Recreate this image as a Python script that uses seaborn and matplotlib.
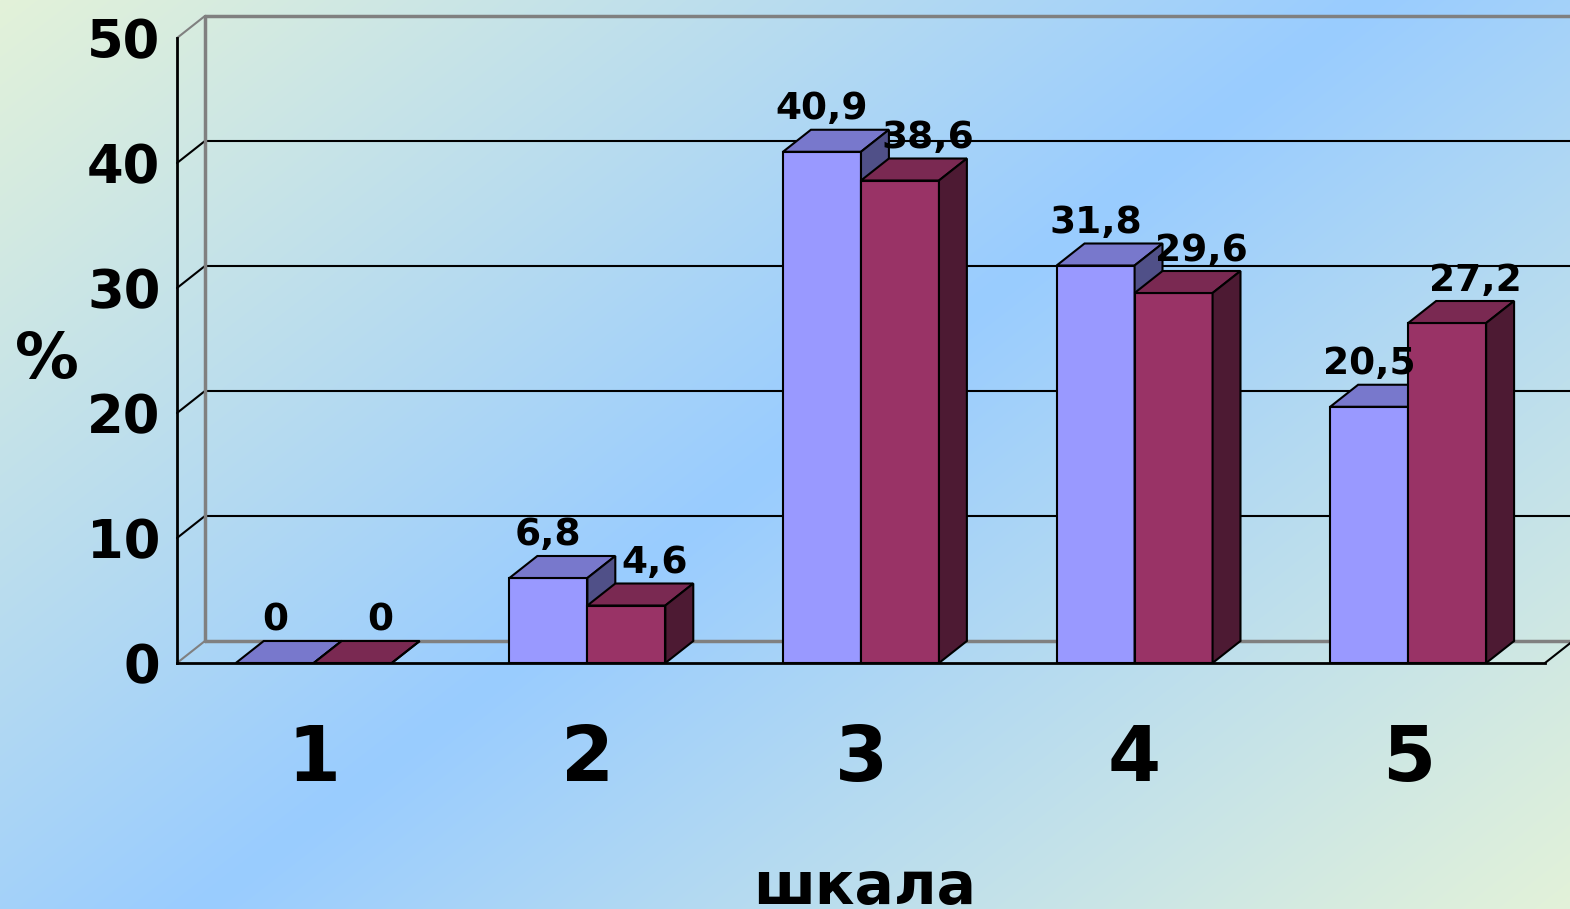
import numpy as np
import pandas as pd
import matplotlib
matplotlib.use("Agg")
import matplotlib.pyplot as plt
import seaborn as sns
from matplotlib.patches import Polygon
from matplotlib.colors import to_rgb

# data
categories = ["1", "2", "3", "4", "5"]
series_names = ["серия 1", "серия 2"]
values_1 = [0, 6.8, 40.9, 31.8, 20.5]
values_2 = [0, 4.6, 38.6, 29.6, 27.2]
y_ticks = [0, 10, 20, 30, 40, 50]

# face colours: front / top / side for each series
front = ["#9999FF", "#993366"]
top = ["#7878CC", "#7A2952"]
side = ["#505088", "#4D1A33"]

sns.set_style("white")
plt.rcParams["font.family"] = ["DejaVu Sans"]
plt.rcParams["font.weight"] = "bold"
plt.rcParams["text.color"] = "black"
plt.rcParams["xtick.color"] = "black"
plt.rcParams["ytick.color"] = "black"

df = pd.DataFrame({
    "шкала": categories * 2,
    "value": values_1 + values_2,
    "series": [series_names[0]] * len(values_1) + [series_names[1]] * len(values_2),
})

fig = plt.figure(figsize=(15.7, 9.09), dpi=100)

# diagonal gradient background: pale corners, blue band across the middle
bg = fig.add_axes([0, 0, 1, 1], zorder=-10)
H, W = 909, 1570
yy, xx = np.mgrid[0:H, 0:W]
t = (0.99 * xx / W + 0.739 * yy / H) / 1.729
k = np.clip(1 - np.abs(2 * t - 1), 0, 1)
pale = np.array([227, 242, 217]) / 255
sky = np.array([153, 204, 255]) / 255
bg.imshow(pale + (sky - pale) * k[..., None], aspect="auto", extent=[0, 1, 0, 1])
bg.axis("off")

ax = fig.add_axes([177 / 1570, 246 / 909, 1368 / 1570, 625 / 909])
ax.patch.set_alpha(0)

sns.barplot(data=df, x="шкала", y="value", hue="series", order=categories,
            palette=front, saturation=1, width=0.57, edgecolor="black",
            linewidth=1.5, legend=False, ax=ax)

ax.set_xlim(-0.5, 4.5)
ax.set_ylim(0, 50)
ax.set_xlabel("")
ax.set_ylabel("")

# 3D depth offset in data units
dx, dy = 0.102, 1.76
x0, x1 = -0.5, 4.5

# back wall, floor and side wall lines
for v in y_ticks:
    c = "gray" if v in (0, 50) else "black"
    lw = 2.5 if v in (0, 50) else 1.5
    ax.plot([x0, x0 + dx], [v, v + dy], color=c, lw=1.5, clip_on=False, zorder=1)
    ax.plot([x0 + dx, x1 + 1], [v + dy, v + dy], color=c, lw=lw, clip_on=False, zorder=1)
ax.plot([x0 + dx, x0 + dx], [dy, 50 + dy], color="gray", lw=2.5, clip_on=False, zorder=1)
ax.plot([x1, x1 + dx], [0, dy], color="black", lw=1.5, clip_on=False, zorder=1)

# top and side faces for each bar + value labels
for p in list(ax.patches):
    i = 0 if np.allclose(p.get_facecolor()[:3], to_rgb(front[0])) else 1
    x, w, h = p.get_x(), p.get_width(), p.get_height()
    z = 3 + 2 * i
    p.set_zorder(z)
    ax.add_patch(Polygon([(x, h), (x + w, h), (x + w + dx, h + dy), (x + dx, h + dy)],
                         closed=True, fc=top[i], ec="black", lw=1.5, zorder=z, clip_on=False))
    ax.add_patch(Polygon([(x + w, 0), (x + w + dx, dy), (x + w + dx, h + dy), (x + w, h)],
                         closed=True, fc=side[i], ec="black", lw=1.5, zorder=z, clip_on=False))
    ax.text(x + w / 2 + dx * i, h + dy + 0.2, f"{h:g}".replace(".", ","),
            ha="center", va="bottom", fontsize=27, fontweight="bold", zorder=10)

# axes styling
for s in ["top", "right"]:
    ax.spines[s].set_visible(False)
for s in ["left", "bottom"]:
    ax.spines[s].set_color("black")
    ax.spines[s].set_linewidth(2)

ax.set_yticks(y_ticks)
ax.set_yticklabels([str(v) for v in y_ticks], fontsize=38, fontweight="bold")
ax.tick_params(axis="y", length=5, width=1.5, pad=7, direction="out", color="black")

ax.set_xticks(range(len(categories)))
ax.set_xticklabels(categories, fontsize=55, fontweight="bold")
ax.set_xticks(np.arange(-0.5, len(categories), 1), minor=True)
ax.tick_params(axis="x", which="major", length=0, pad=43)
ax.tick_params(axis="x", which="minor", length=8, width=1.5, direction="out", color="black")

fig.text(47 / 1570, 1 - 360 / 909, "%", fontsize=46, fontweight="bold", ha="center", va="center")
fig.text(865 / 1570, 5 / 909, "шкала", fontsize=42, fontweight="bold", ha="center",
         va="baseline")

fig.savefig("out.png", dpi=100)
